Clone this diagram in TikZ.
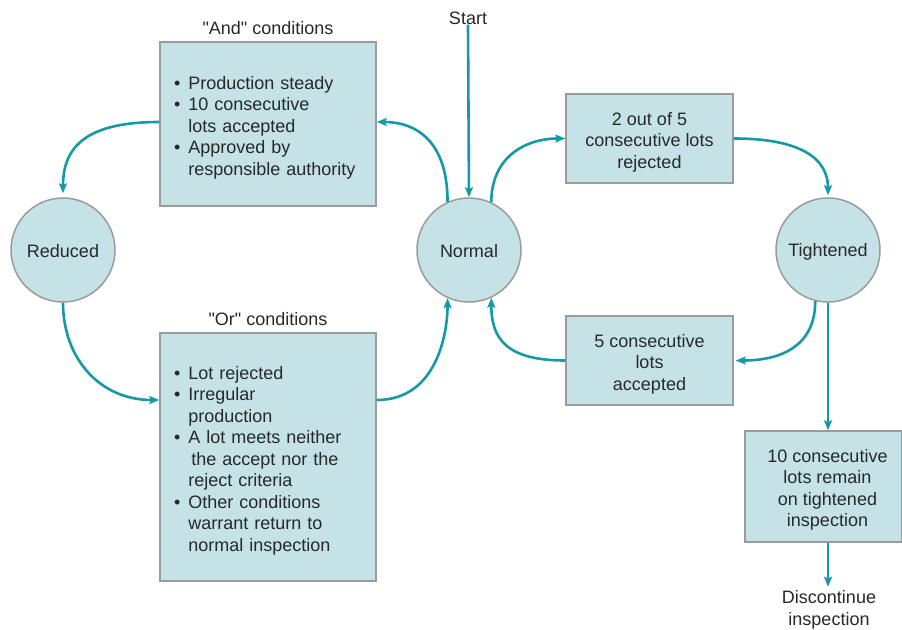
\documentclass[tikz,border=0pt]{standalone}
\usepackage{fontspec}
\setmainfont{Liberation Sans}[Ligatures=TeXOff]
\usetikzlibrary{arrows.meta}
\definecolor{boxfill}{RGB}{197,227,231}
\definecolor{boxline}{RGB}{155,155,155}
\definecolor{teal2}{RGB}{20,153,168}
\definecolor{txt}{RGB}{40,40,40}
\tikzset{
  every node/.style={text=txt, font=\fontsize{18pt}{21.5pt}\selectfont},
  box/.style={draw=boxline, fill=boxfill, line width=1.5pt, inner sep=0pt},
  state/.style={circle, draw=boxline, fill=boxfill, line width=1.5pt, minimum size=104pt, inner sep=0pt},
  arr/.style={draw=teal2, line width=2.6pt, -{Stealth[length=10pt,width=8pt,inset=2pt]}},
  plain/.style={inner sep=0pt, align=center},
  listtext/.style={inner sep=0pt, text width=188pt, align=left, yshift=-3.5pt},
  boxtext/.style={inner sep=0pt, align=center, yshift=-3.5pt},
  statetext/.style={inner sep=0pt, yshift=-1.5pt}
}
\newcommand{\bul}{\textbullet\hspace{0.45em}}
\newcommand{\nob}{\phantom{\textbullet}\hspace{0.45em}}
\begin{document}
\begin{tikzpicture}[x=1pt,y=-1pt]
\useasboundingbox (0,0) rectangle (902,629);
% states
\node[state] (reduced) at (63,250) {};
\node[statetext] (reducedtext) at (reduced.center) {Reduced};
\node[state] (normal) at (469,250) {};
\node[statetext] (normaltext) at (normal.center) {Normal};
\node[state] (tight) at (828,250) {};
\node[statetext] (tighttext) at (tight.center) {Tightened};
% condition boxes
\node[box, minimum width=216pt, minimum height=164pt] (and) at (268,124) {};
\node[listtext] (andtext) at (and.center)
 {\bul Production steady\\ \bul 10 consecutive\\ \nob lots accepted\\ \bul Approved by\\ \nob responsible authority};
\node[plain] (andlabel) at (268,28) {"And" conditions};
\node[box, minimum width=216pt, minimum height=248pt] (or) at (268,457) {};
\node[listtext] (ortext) at (or.center)
 {\bul Lot rejected\\ \bul Irregular\\ \nob production\\ \bul A lot meets neither\\ \nob\,the accept nor the\\ \nob reject criteria\\ \bul Other conditions\\ \nob warrant return to\\ \nob normal inspection};
\node[plain] (orlabel) at (268,319) {"Or" conditions};
% right boxes
\node[box, minimum width=167pt, minimum height=89pt] (two) at (649.5,138.5) {};
\node[boxtext] (twotext) at (two.center) {2 out of 5\\ consecutive lots\\ rejected};
\node[box, minimum width=167pt, minimum height=89pt] (five) at (649.5,360.5) {};
\node[boxtext] (fivetext) at (five.center) {5 consecutive\\ lots\\ accepted};
\node[box, minimum width=157pt, minimum height=111pt] (ten) at (823.5,486.5) {};
\node[boxtext] (tentext) at ([xshift=4pt]ten.center) {10 consecutive\\ lots remain\\ on tightened\\ inspection};
\node[plain] (start) at (468,18) {Start};
\node[plain] (disc) at (829,610) {Discontinue\\ inspection};
% connectors
\draw[arr] (start.south) -- (normal.north);
\draw[arr] ([yshift=2pt]and.west) .. controls +(-75,0) and +(0,-45) .. ([yshift=4pt]reduced.north);
\draw[arr] (normal.114) .. controls +(0,-60) and +(40,0) .. ([yshift=2pt]and.east);
\draw[arr] (reduced.south) .. controls +(0,55) and +(-60,0) .. ([yshift=57pt]or.west);
\draw[arr] ([yshift=57pt]or.east) .. controls +(60,0) and +(0,35) .. (normal.246);
\draw[arr] (normal.65) .. controls +(0,-45) and +(-40,0) .. (two.west);
\draw[arr] (two.east) .. controls +(70,0) and +(0,-35) .. ([yshift=2pt]tight.north);
\draw[arr] (tight.256) .. controls +(0,45) and +(45,0) .. ([xshift=2pt]five.east);
\draw[arr] (five.west) .. controls +(-60,0) and +(0,40) .. (normal.295);
\draw[arr] (tight.south) -- (tight.south |- ten.north);
\draw[arr] (tight.south |- ten.south) -- ([yshift=4pt]tight.south |- disc.north);
\end{tikzpicture}
\end{document}
